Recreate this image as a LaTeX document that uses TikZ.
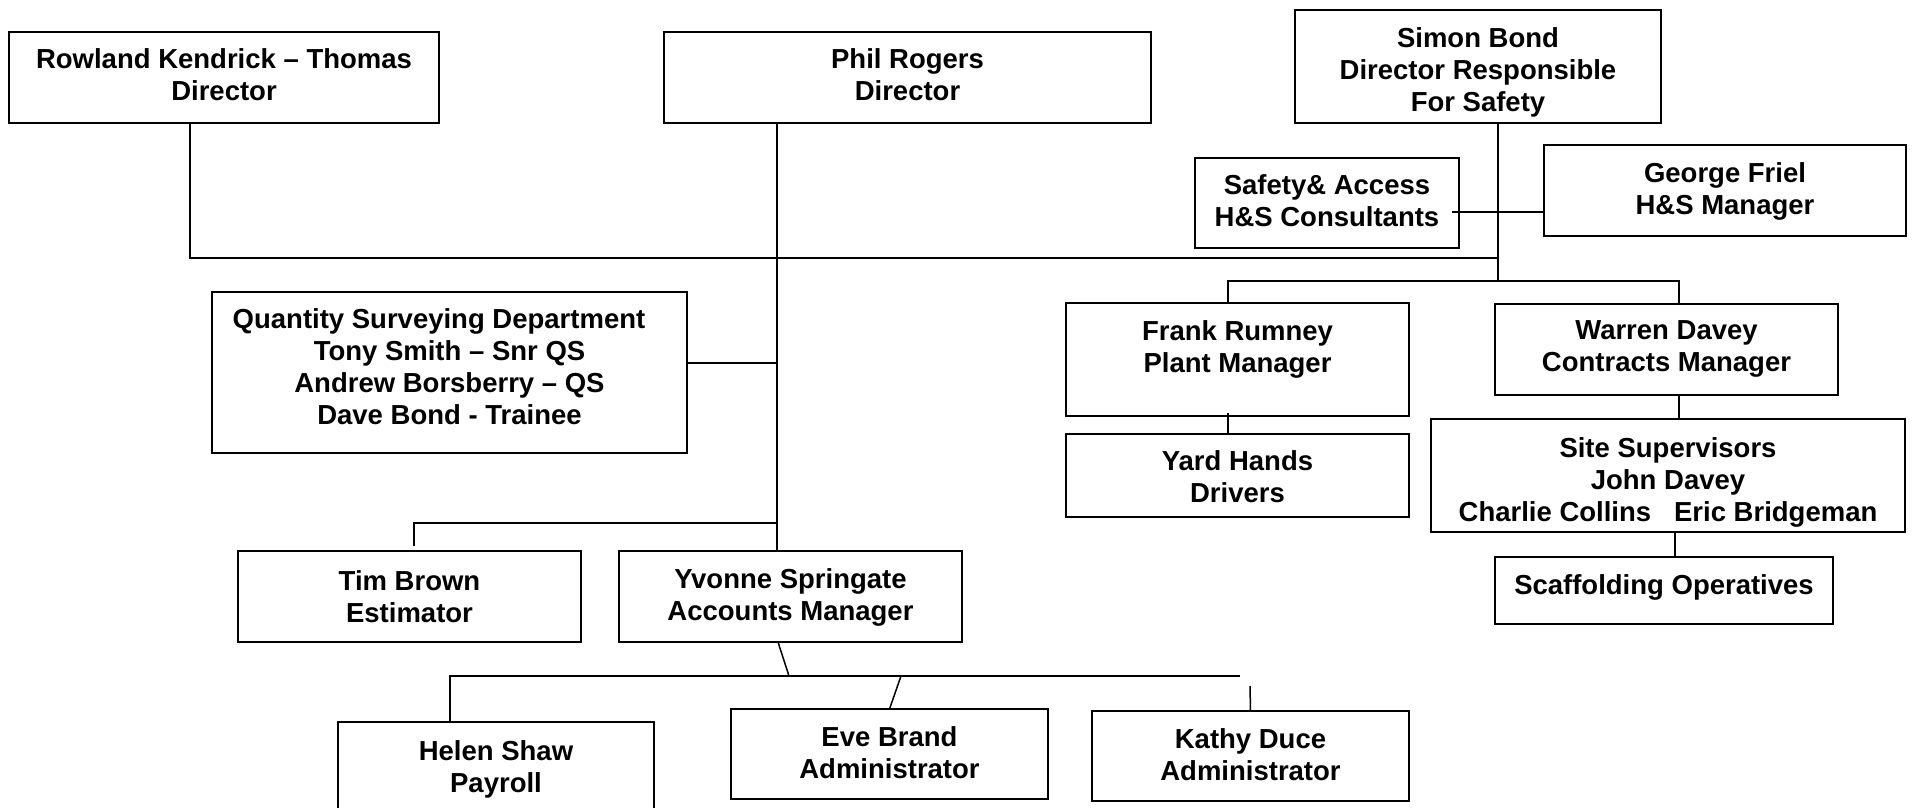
\documentclass[tikz,border=0pt]{standalone}
\usepackage{fontspec}
\setmainfont{Liberation Sans}
\begin{document}
\begin{tikzpicture}[x=1pt,y=-1pt,
  box/.style={draw=black,line width=2pt,rectangle,inner sep=0pt,outer sep=0pt},
  txt/.style={font=\fontsize{27.5}{32}\selectfont\bfseries,align=center,inner sep=0pt},
  link/.style={draw=black,line width=1.5pt}]
\useasboundingbox (0,0) rectangle (1912,807);
\clip (0,0) rectangle (1912,807);
\fill[white] (0,0) rectangle (1912,807);

% directors
\node[box,minimum width=430pt,minimum height=91pt] (ro) at (224,77.5) {};
\node[txt] (roT) at (224,75) {Rowland Kendrick – Thomas\\Director};
\node[box,minimum width=487pt,minimum height=91pt] (ph) at (907.5,77.5) {};
\node[txt] (phT) at (907.5,75) {Phil Rogers\\Director};
\node[box,minimum width=366pt,minimum height=113pt] (si) at (1478,66.5) {};
\node[txt] (siT) at (1478,72) {Simon Bond\\Director Responsible\\For Safety};

% safety
\node[box,minimum width=264pt,minimum height=90pt] (sa) at (1327,203) {};
\node[txt] (saT) at (1327,201) {Safety\& Access\\H\&S Consultants};
\node[box,minimum width=362pt,minimum height=91pt] (ge) at (1725,190.5) {};
\node[txt] (geT) at (1725,191) {George Friel\\H\&S Manager};

% plant and contracts
\node[box,minimum width=343pt,minimum height=113pt] (fr) at (1237.5,359.5) {};
\node[txt] (frT) at (1237.5,349) {Frank Rumney\\Plant Manager};
\node[box,minimum width=343pt,minimum height=91pt] (wa) at (1666.5,349.5) {};
\node[txt] (waT) at (1666.5,349) {Warren Davey\\Contracts Manager};
\node[box,minimum width=343pt,minimum height=83pt] (ya) at (1237.5,475.5) {};
\node[txt] (yaT) at (1237.5,476.5) {Yard Hands\\Drivers};
\node[box,minimum width=474pt,minimum height=113pt] (st) at (1668,475.5) {};
\node[txt] (stT) at (1668,482) {Site Supervisors\\John Davey\\Charlie Collins\ \ \ Eric Bridgeman};
\node[box,minimum width=338pt,minimum height=67pt] (sc) at (1664,590.5) {};
\node[txt] (scT) at (1664,587) {Scaffolding Operatives};

% quantity surveying, estimating, accounts
\node[box,minimum width=475pt,minimum height=161pt] (qs) at (449.5,372.5) {};
\node[txt] (qsT) at (449.5,367) {Quantity Surveying Department\hspace*{21pt}\\Tony Smith – Snr QS\\Andrew Borsberry – QS\\Dave Bond - Trainee};
\node[box,minimum width=343pt,minimum height=91pt] (ti) at (409.5,596.5) {};
\node[txt] (tiT) at (409.5,597) {Tim Brown\\Estimator};
\node[box,minimum width=343pt,minimum height=91pt] (yv) at (790.5,596.5) {};
\node[txt] (yvT) at (790.5,597) {Yvonne Springate\\Accounts Manager};

% accounts staff
\node[box,minimum width=316pt,minimum height=118pt] (he) at (496,781) {};
\node[txt] (heT) at (496,769.5) {Helen Shaw\\Payroll};
\node[box,minimum width=317pt,minimum height=90pt] (ev) at (889.5,754) {};
\node[txt] (evT) at (889.5,753) {Eve Brand\\Administrator};
\node[box,minimum width=317pt,minimum height=90pt] (ka) at (1250.5,756) {};
\node[txt] (kaT) at (1250.5,755) {Kathy Duce\\Administrator};

% junction points
\coordinate (hubS) at (1498,258);
\coordinate (brR) at (1498,281);
\coordinate (pv) at ([xshift=-130.5pt]ph.south);
\coordinate (tb) at (777,523);
\coordinate (adM) at (789,676);
\coordinate (adR) at (1240,676);
\coordinate (adE) at (901,676);
\coordinate (kaS) at (1250,686);

% safety director line and branches
\draw[link] ([xshift=203pt]si.south west) -- (brR);
\draw[link] ([xshift=181pt]ro.south west) |- (hubS);
\draw[link] ([xshift=-7pt,yshift=-9pt]sa.east) -- ([yshift=-9pt]sa.east -| ge.west);
\draw[link] ([xshift=-9.5pt]fr.north) |- (brR) -| ([xshift=12.5pt]wa.north);
\draw[link] ([xshift=-9.5pt,yshift=3pt]fr.south) -- ([xshift=-9.5pt]ya.north);
\draw[link] ([xshift=12.5pt]wa.south) -- ([xshift=11pt]st.north);
\draw[link] ([xshift=7pt]st.south) -- ([xshift=11pt]sc.north);

% phil rogers line and branches
\draw[link] (pv) -- ([xshift=-13.5pt]yv.north);
\draw[link] ([yshift=9.5pt]qs.east) -- ([yshift=9.5pt]qs.east -| pv);
\draw[link] ([xshift=4.5pt,yshift=5pt]ti.north) |- (tb);

% accounts staff bar
\draw[link] ([xshift=-12.5pt]yv.south) -- (adM);
\draw[link] ([xshift=-46pt]he.north) |- (adR);
\draw[link] (adE) -- (ev.north);
\draw[link] (kaS) -- (ka.north);
\end{tikzpicture}
\end{document}
